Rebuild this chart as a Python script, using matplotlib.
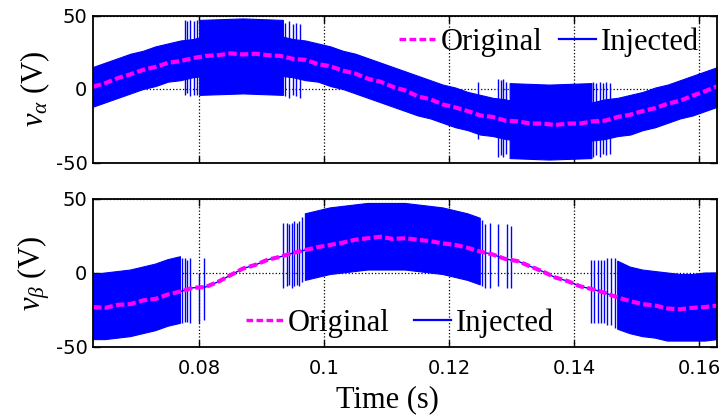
import numpy as np
import matplotlib
matplotlib.use('Agg')
import matplotlib.pyplot as plt
from matplotlib.lines import Line2D

plt.rcParams['axes.unicode_minus'] = False
plt.rcParams['mathtext.fontset'] = 'custom'
plt.rcParams['mathtext.rm'] = 'Liberation Serif'
plt.rcParams['mathtext.it'] = 'Liberation Serif:italic'

# sample times (s), one value every 2 ms
time_s = np.round(np.arange(0.063, 0.1631, 0.002), 3)

# ---- v_alpha ----
va_orig = [1.5, 4.0, 7.5, 10.0, 13.0, 15.0, 17.8, 19.0, 21.0, 22.5, 23.0, 24.2, 23.5,
           24.0, 23.0, 22.5, 20.5, 19.8, 17.0, 15.5, 12.5, 10.5, 7.0, 5.0, 1.5, -1.0,
           -5.0, -7.0, -10.5, -12.5, -15.0, -18.0, -19.0, -21.5, -22.0, -23.5, -23.5,
           -24.5, -23.5, -23.5, -22.0, -21.5, -19.0, -17.5, -15.0, -13.0, -10.0, -8.0,
           -4.5, -1.5, 2.0]
va_hi = [15, 18, 21, 24, 26, 29, 31, 33, 34, 36, 37, 37, 38, 37, 37, 36, 34, 33, 31,
         29, 26, 24, 21, 18, 15, 12, 9, 6, 3, 1, -2, -4, -6, -7, -9, -10, -10, -11,
         -10, -10, -9, -7, -6, -4, -2, 1, 3, 6, 9, 12, 15]
va_lo = [-12, -9, -6, -3, 0, 2, 5, 6, 8, 9, 10, 11, 11, 11, 10, 9, 8, 6, 5, 2, 0, -3,
         -6, -9, -12, -15, -18, -20, -23, -26, -28, -31, -32, -34, -35, -36, -37, -37,
         -37, -36, -35, -34, -32, -31, -28, -26, -23, -20, -18, -15, -12]
# dense bursts (time, upper, lower)
va_burst1_t = [0.0800, 0.0870, 0.0934]
va_burst1_hi = [47, 48, 47]
va_burst1_lo = [-4, -3, -4]
va_burst2_t = [0.1297, 0.1360, 0.1428]
va_burst2_hi = [4, 3, 4]
va_burst2_lo = [-47, -48, -47]
# isolated spikes
va_spk_t = [0.0777, 0.0781, 0.0786, 0.0791, 0.0796, 0.0938, 0.0944, 0.0950, 0.0955, 0.0962,
            0.1246, 0.1279, 0.1283, 0.1287, 0.1291, 0.1431, 0.1436, 0.1441, 0.1447, 0.1452, 0.1458]
va_spk_hi = [47, 46, 47, 46, 47, 45, 46, 44, 45, 44,
             5, 7, 6, 7, 5, 5, 4, 5, 4, 5, 4]
va_spk_lo = [-4, -3, -5, -4, -4, -5, -6, -4, -5, -6,
             -34, -46, -45, -46, -44, -46, -45, -46, -44, -45, -44]

# ---- v_beta ----
vb_orig = [-23.0, -23.5, -21.5, -21.0, -18.5, -17.5, -14.5, -12.5, -10.0, -9.5, -6.0,
           -1.5, 3.0, 5.5, 9.0, 11.0, 13.5, 15.5, 17.5, 19.0, 20.5, 22.5, 23.5, 24.5,
           23.0, 23.5, 22.5, 21.5, 20.0, 19.0, 17.0, 14.5, 12.5, 9.5, 8.0, 4.5, 1.0,
           -3.0, -5.5, -9.0, -11.0, -13.5, -16.5, -19.0, -21.0, -22.0, -24.0, -24.5,
           -23.5, -23.0, -22.0]
nan = np.nan
vb_hi = [-1, 0, 1, 2, 4, 6, 9, 11, nan, nan, nan, nan, nan, nan, nan, nan, nan,
         40, 42, 44, 45, 46, 47, 47, 47, 47, 46, 45, 44, 42, 40, 37,
         nan, nan, nan, nan, nan, nan, nan, nan, nan, nan,
         8, 4, 2, 1, 0, -1, -1, 0, 0]
vb_lo = [-45, -45, -44, -43, -41, -39, -36, -34, nan, nan, nan, nan, nan, nan, nan, nan, nan,
         -5, -3, -1, 0, 1, 2, 2, 2, 2, 1, 0, -1, -3, -5, -8,
         nan, nan, nan, nan, nan, nan, nan, nan, nan, nan,
         -38, -41, -43, -44, -46, -46, -46, -46, -45]
vb_spk_t = [0.0773, 0.0777, 0.0781, 0.0785, 0.0799, 0.0808,
            0.0934, 0.0940, 0.0944, 0.0948, 0.0952, 0.0956, 0.0960, 0.0965,
            0.1253, 0.1257, 0.1265, 0.1278, 0.1292, 0.1300,
            0.1428, 0.1432, 0.1438, 0.1443, 0.1448, 0.1453, 0.1460, 0.1465]
vb_spk_hi = [10, 10, 9, 10, 0, 10,
             34, 34, 33, 34, 35, 34, 35, 38,
             36, 33, 34, 33, 33, 32,
             9, 9, 9, 9, 9, 10, 10, 10]
vb_spk_lo = [-34, -33, -33, -34, -34, -32,
             -10, -9, -8, -10, -9, -8, -9, -6,
             -9, -10, -10, -9, -10, -10,
             -34, -34, -34, -34, -34, -35, -35, -37]

mag = '#ff00ff'
blu = '#0000ff'


def draw_panel(ax, orig, hi, lo, bursts, spk):
	ax.plot(time_s, orig, color=blu, lw=1)
	ax.fill_between(time_s, np.array(lo, float), np.array(hi, float), color=blu, lw=0.8)
	for bt, bhi, blo in bursts:
		ax.fill_between(bt, blo, bhi, color=blu, lw=0.8)
	ax.vlines(spk[0], spk[2], spk[1], color=blu, lw=1)
	ax.plot(time_s, orig, color=mag, ls=(0, (2.0, 0.8)), lw=3.0)
	ax.set_xlim(0.063, 0.1629)
	ax.set_ylim(-50, 50)
	ax.set_yticks([-50, 0, 50])
	ax.set_xticks([0.08, 0.1, 0.12, 0.14, 0.16])
	ax.set_axisbelow(True)
	ax.grid(True, ls=':', color='k', lw=0.9)
	ax.tick_params(direction='in', top=True, right=True, length=5, width=1,
				   labelsize=14, pad=4)
	for lab in ax.get_xticklabels() + ax.get_yticklabels():
		lab.set_family('DejaVu Sans')
	for s in ax.spines.values():
		s.set_linewidth(1.3)


fig = plt.figure(figsize=(7.23, 4.20), dpi=100)
ax1 = fig.add_axes([93/723, 1-162.5/420, 624/723, 147/420])
ax2 = fig.add_axes([93/723, 1-347/420, 624/723, 148/420])

draw_panel(ax1, va_orig, va_hi, va_lo,
		   [(va_burst1_t, va_burst1_hi, va_burst1_lo), (va_burst2_t, va_burst2_hi, va_burst2_lo)],
		   (va_spk_t, va_spk_hi, va_spk_lo))
draw_panel(ax2, vb_orig, vb_hi, vb_lo, [], (vb_spk_t, vb_spk_hi, vb_spk_lo))

ax1.tick_params(labelbottom=False)
ax2.tick_params(axis='x', pad=9)
ax2.set_xticklabels(['0.08', '0.1', '0.12', '0.14', '0.16'])

serif = {'family': 'Liberation Serif', 'size': 22}
ax1.set_ylabel(r'$v_\alpha$ (V)', fontdict=serif)
ax2.set_ylabel(r'$v_\beta$ (V)', fontdict=serif)
ax1.yaxis.set_label_coords(-0.066, 0.5)
ax2.yaxis.set_label_coords(-0.066, 0.5)
fig.text(387/723, 1-400/420, 'Time (s)', ha='center', va='center', **serif)

handles = [Line2D([], [], color=mag, ls=(0, (2.0, 1.0)), lw=2.4),
		   Line2D([], [], color=blu, lw=1.6)]
labels = ['Original', 'Injected']
leg_kw = dict(ncol=2, frameon=False, loc='center', prop={'family': 'Liberation Serif', 'size': 22},
			  handlelength=1.2, handletextpad=0.17, borderpad=0, borderaxespad=0)
ax1.legend(handles, labels, bbox_to_anchor=(549/723, 1-42/420), bbox_transform=fig.transFigure,
		   columnspacing=0.55, **leg_kw)
ax2.legend(handles, labels, bbox_to_anchor=(400/723, 1-323/420), bbox_transform=fig.transFigure,
		   columnspacing=0.8, **leg_kw)

fig.savefig('out.png', dpi=100)
